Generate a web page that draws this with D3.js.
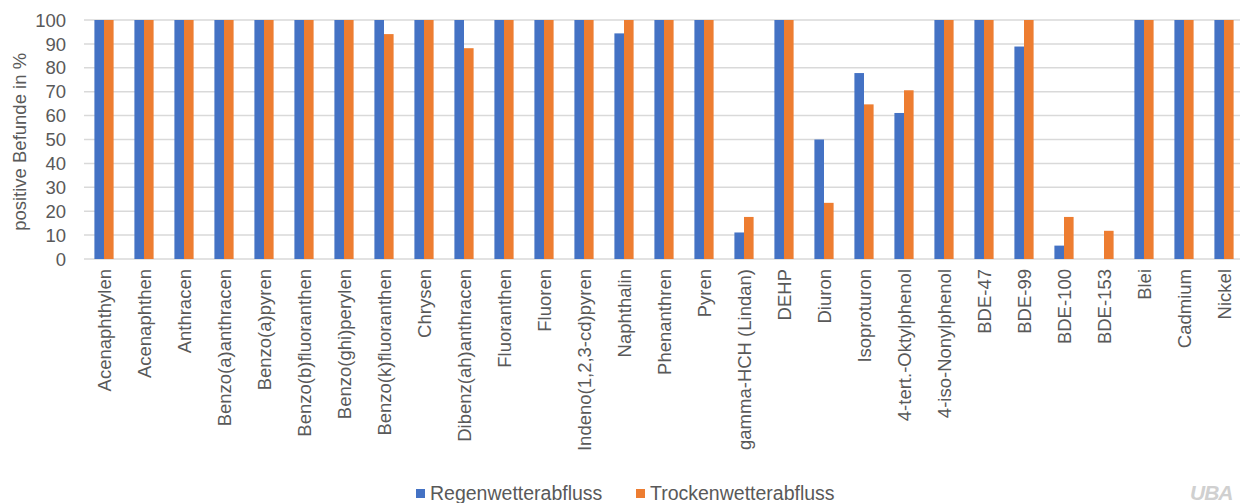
<!DOCTYPE html>
<html>
<head>
<meta charset="utf-8">
<script src="https://cdn.jsdelivr.net/npm/d3@7"></script>
<style>
  body { margin: 0; background: #fff; }
  svg { display: block; font-family: "Liberation Sans", Arial, sans-serif; }
</style>
</head>
<body>
<div id="chart"></div>
<script>
// categories and values (percent of positive findings)
const categories = ["Acenaphthylen", "Acenaphthen", "Anthracen", "Benzo(a)anthracen", "Benzo(a)pyren",
  "Benzo(b)fluoranthen", "Benzo(ghi)perylen", "Benzo(k)fluoranthen", "Chrysen", "Dibenz(ah)anthracen",
  "Fluoranthen", "Fluoren", "Indeno(1,2,3-cd)pyren", "Naphthalin", "Phenanthren", "Pyren",
  "gamma-HCH (Lindan)", "DEHP", "Diuron", "Isoproturon", "4-tert.-Oktylphenol", "4-iso-Nonylphenol",
  "BDE-47", "BDE-99", "BDE-100", "BDE-153", "Blei", "Cadmium", "Nickel"];
const regen = [100, 100, 100, 100, 100, 100, 100, 100, 100, 100, 100, 100, 100, 94.4, 100, 100,
  11.1, 100, 50, 77.8, 61.1, 100, 100, 88.9, 5.6, 0, 100, 100, 100];
const trocken = [100, 100, 100, 100, 100, 100, 100, 94.1, 100, 88.2, 100, 100, 100, 100, 100, 100,
  17.6, 100, 23.5, 64.7, 70.6, 100, 100, 100, 17.6, 11.8, 100, 100, 100];
const seriesNames = ["Regenwetterabfluss", "Trockenwetterabfluss"];
const colors = ["#4472c4", "#ed7d31"];
const yTicks = [0, 10, 20, 30, 40, 50, 60, 70, 80, 90, 100];

const W = 1240, H = 503;
const svg = d3.select("#chart").append("svg").attr("width", W).attr("height", H);

const x = d3.scaleBand().domain(categories).range([84, 1244]).paddingInner(0).paddingOuter(0);
const y = d3.scaleLinear().domain([0, 100]).range([259, 20]);
const barW = 9.6;

// gridlines
svg.append("g").selectAll("line").data(yTicks).join("line")
  .attr("x1", 84).attr("x2", W)
  .attr("y1", d => y(d)).attr("y2", d => y(d))
  .attr("stroke", "#d9d9d9").attr("stroke-width", 1.5);

// y labels
svg.append("g").selectAll("text").data(yTicks).join("text")
  .attr("x", 66).attr("y", d => y(d)).attr("dy", "0.36em")
  .attr("text-anchor", "end").attr("font-size", 18.5).attr("fill", "#595959")
  .text(d => d);

svg.append("text")
  .attr("transform", "translate(26," + y(49) + ") rotate(-90)")
  .attr("text-anchor", "middle").attr("font-size", 18.5).attr("fill", "#595959")
  .text("positive Befunde in %");

// bars
const rows = categories.map((c, i) => ({ c: c, v: [regen[i], trocken[i]] }));
const grp = svg.append("g").selectAll("g").data(rows).join("g")
  .attr("transform", d => "translate(" + (x(d.c) + x.bandwidth() / 2 - barW) + ",0)");
grp.selectAll("rect").data(d => d.v).join("rect")
  .attr("x", (d, i) => i * barW)
  .attr("y", d => y(d))
  .attr("width", barW)
  .attr("height", d => y(0) - y(d))
  .attr("fill", (d, i) => colors[i]);

// category labels
svg.append("g").selectAll("text").data(categories).join("text")
  .attr("transform", d => "translate(" + (x(d) + x.bandwidth() / 2) + ",269) rotate(-90)")
  .attr("dy", "0.36em")
  .attr("text-anchor", "end").attr("font-size", 18.5).attr("fill", "#595959")
  .text(d => d);

// legend
const legend = svg.append("g");
const legX = [416, 636];
seriesNames.forEach((s, i) => {
  legend.append("rect").attr("x", legX[i]).attr("y", 489).attr("width", 9).attr("height", 9).attr("fill", colors[i]);
  legend.append("text").attr("x", legX[i] + 14).attr("y", 500)
    .attr("font-size", 19.5).attr("fill", "#595959").text(s);
});

// logo
svg.append("text").attr("x", 1190).attr("y", 500)
  .attr("font-size", 21).attr("font-weight", "bold").attr("font-style", "italic")
  .attr("fill", "#d0d0d0").attr("letter-spacing", -1).text("UBA");
</script>
</body>
</html>
